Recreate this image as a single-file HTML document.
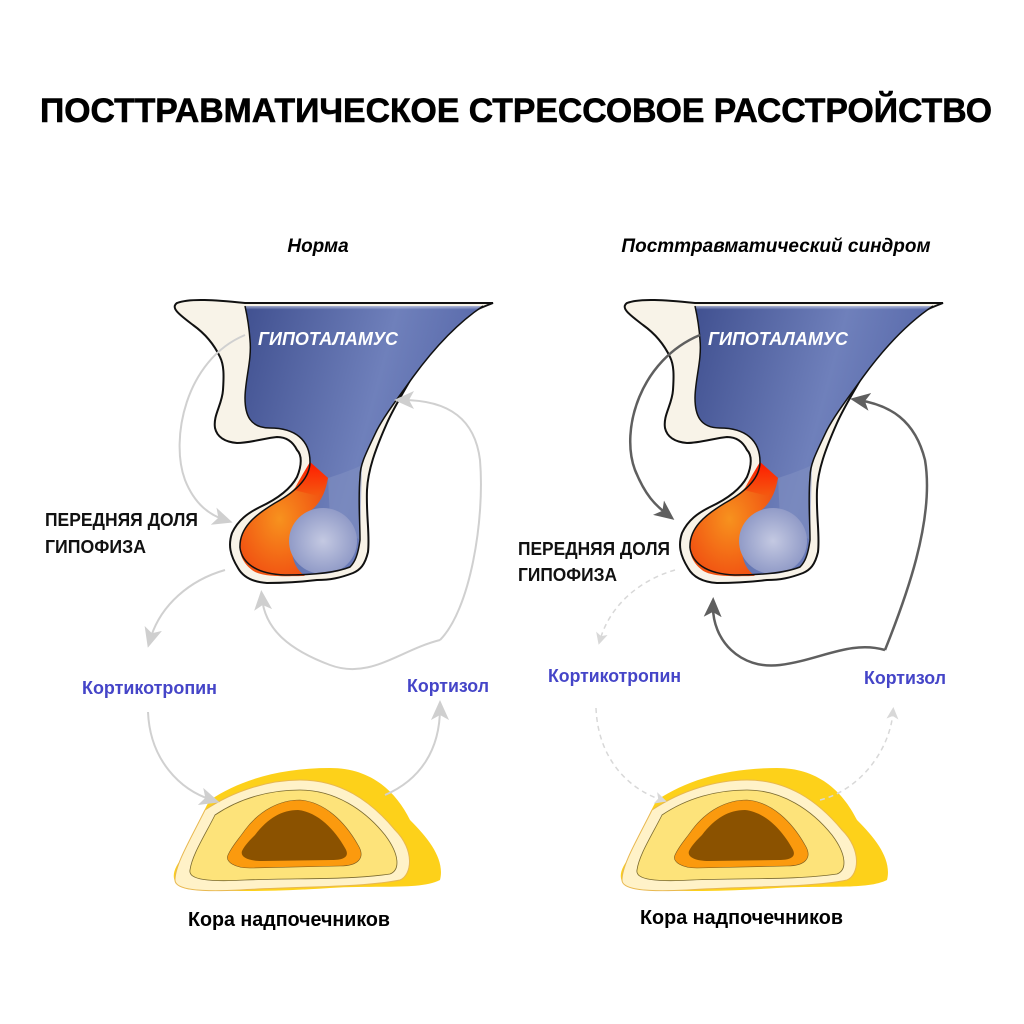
<!DOCTYPE html>
<html><head><meta charset="utf-8"><style>
html,body{margin:0;padding:0;background:#fff}
svg{display:block}
text{font-family:"Liberation Sans",sans-serif}
</style></head><body>
<svg width="1024" height="1024" viewBox="0 0 1024 1024" xmlns="http://www.w3.org/2000/svg">
<defs>
<linearGradient id="blue" x1="0" y1="0" x2="1" y2="0.3">
<stop offset="0" stop-color="#3f4f8f"/><stop offset="0.6" stop-color="#6f80bb"/><stop offset="1" stop-color="#5566a8"/>
</linearGradient>
<linearGradient id="bluetop" x1="0" y1="0" x2="0" y2="1">
<stop offset="0" stop-color="#fff" stop-opacity="0.5"/><stop offset="0.15" stop-color="#fff" stop-opacity="0"/>
</linearGradient>
<radialGradient id="org" cx="0.45" cy="0.5" r="0.6"><stop offset="0" stop-color="#f7921e"/><stop offset="1" stop-color="#f04a10"/></radialGradient>
<radialGradient id="lb" cx="0.5" cy="0.5" r="0.6"><stop offset="0" stop-color="#c4c9e2"/><stop offset="1" stop-color="#8792c2"/></radialGradient>
<linearGradient id="red" x1="0" y1="0" x2="0" y2="1"><stop offset="0" stop-color="#ff1a00"/><stop offset="1" stop-color="#f45a10"/></linearGradient>
<marker id="aL" markerWidth="20" markerHeight="20" refX="12" refY="10" orient="auto" markerUnits="userSpaceOnUse" viewBox="0 0 20 20"><path d="M0,1 L20,10 L0,19 L5,10z" fill="#cfcfcf"/></marker>
<marker id="aD" markerWidth="20" markerHeight="20" refX="12" refY="10" orient="auto" markerUnits="userSpaceOnUse" viewBox="0 0 20 20"><path d="M0,1 L20,10 L0,19 L5,10z" fill="#5f5f5f"/></marker>
<marker id="aS" markerWidth="12" markerHeight="12" refX="7" refY="6" orient="auto" markerUnits="userSpaceOnUse" viewBox="0 0 12 12"><path d="M0,0 L12,6 L0,12 L3,6z" fill="#d8d8d8"/></marker>
<g id="gland">
<path d="M177,303 C190,298 215,300 245,303 L493,303 C480,308 470,312 460,320 C440,335 430,345 420,363 C405,390 395,405 387,423 C375,450 368,470 367,490 C366,515 370,535 368,552 C365,565 360,570 353,573 C340,578 330,580 317,580 C300,582 285,583 267,583 C252,582 243,577 238,568 C230,555 228,545 232,533 C238,520 248,513 260,507 C275,500 290,490 297,477 C302,465 302,455 297,450 C292,440 285,437 277,437 C265,438 250,443 237,443 C225,442 217,437 215,428 C213,415 222,405 223,390 C224,375 224,365 220,357 C212,340 200,330 193,325 C180,315 170,308 177,303Z" fill="#f8f3e8" stroke="#111" stroke-width="2"/>
<path d="M245,306 L483,306 C465,318 440,340 413,377 C395,402 385,415 377,430 C365,455 360,465 360,477 C358,500 360,520 360,540 C358,555 355,562 350,567 C335,573 310,575 285,575 C255,574 242,562 240,548 C239,528 255,515 275,503 C295,492 310,478 310,462 C310,440 295,428 270,428 C250,428 245,415 245,398 C245,380 252,360 250,340 C249,325 247,315 245,306Z" fill="url(#blue)"/>
<path d="M245,306 L483,306 C470,315 460,322 450,330 L248,330Z" fill="url(#bluetop)"/>
<path d="M240,548 C239,528 255,515 275,503 C295,492 305,478 310,462 L328,478 C326,490 322,500 314,508 C300,518 292,530 292,548 C292,565 300,572 305,576 C290,576 262,578 252,570 C243,563 240,555 240,548Z" fill="url(#org)"/>
<path d="M310,462 C304,472 298,482 294,490 L318,496 C322,490 326,482 328,478Z" fill="url(#red)"/>
<path d="M328,478 C340,474 352,470 362,465 L360,540 L330,520Z" fill="#8090c2" opacity="0.6"/>
<ellipse cx="323" cy="541" rx="34" ry="33" fill="url(#lb)"/>
<path d="M240,548 C239,528 255,515 275,503 C295,492 310,478 310,462 C310,440 295,428 270,428 C250,428 245,415 245,398 C245,380 252,360 250,340 C249,325 247,315 245,306" fill="none" stroke="#111" stroke-width="1.5"/>
<path d="M483,306 C465,318 440,340 413,377 C395,402 385,415 377,430 C365,455 360,465 360,477 C358,500 360,520 360,540 C358,555 355,562 350,567 C335,573 310,575 285,575 C255,574 242,562 240,548" fill="none" stroke="#111" stroke-width="1.5"/>
<text x="328" y="345" fill="#fff" font-size="18" font-weight="bold" font-style="italic" text-anchor="middle">ГИПОТАЛАМУС</text>
</g>
<g id="adrenal">
<path d="M210,800 C240,780 280,768 330,768 C370,768 395,790 410,820 C430,840 445,860 440,880 C420,890 380,885 330,888 C270,892 220,892 185,888 C170,885 170,870 185,855 C195,840 200,815 210,800Z" fill="#fdd11a"/>
<path d="M205,810 C235,790 270,780 300,780 C340,780 370,800 395,830 C415,850 412,875 400,880 C360,888 300,886 240,890 C200,892 175,890 175,880 C175,865 190,840 205,810Z" fill="#fff2c8" stroke="#e8b850" stroke-width="1"/>
<path d="M215,815 C240,798 270,790 300,790 C335,790 365,810 385,835 C400,855 400,870 390,874 C350,880 300,878 245,880 C210,882 188,880 190,870 C192,855 205,835 215,815Z" fill="#fde37a" stroke="#7a6a30" stroke-width="0.8"/>
<path d="M245,830 C260,810 280,800 300,800 C325,802 345,822 358,845 C366,858 358,866 340,866 L250,868 C235,868 225,862 228,855 C232,846 238,840 245,830Z" fill="#fb9a0e" stroke="#7a5a20" stroke-width="0.6"/>
<path d="M255,835 C268,818 282,810 298,810 C318,812 335,830 345,848 C350,856 345,860 332,860 L262,861 C248,861 240,857 242,851 C245,845 250,840 255,835Z" fill="#8b5200"/>
</g>
</defs>

<text x="40" y="122" font-size="34" font-weight="bold" fill="#000" textLength="952" lengthAdjust="spacingAndGlyphs" stroke="#000" stroke-width="0.6">ПОСТТРАВМАТИЧЕСКОЕ СТРЕССОВОЕ РАССТРОЙСТВО</text>
<text x="318" y="252" font-size="19" font-weight="bold" font-style="italic" text-anchor="middle">Норма</text>
<text x="776" y="252" font-size="19" font-weight="bold" font-style="italic" text-anchor="middle">Посттравматический синдром</text>

<use href="#gland"/>
<use href="#adrenal"/>
<g fill="none" stroke="#d0d0d0" stroke-width="2">
<path d="M245,335 C185,360 170,440 185,480 C195,505 210,515 225,520" marker-end="url(#aL)"/>
<path d="M440,640 C470,610 485,520 480,460 C475,420 450,400 402,400" marker-end="url(#aL)"/>
<path d="M440,640 C400,650 370,680 330,665 C290,650 265,630 262,598" marker-end="url(#aL)"/>
<path d="M225,570 C190,580 160,605 150,640" marker-end="url(#aL)"/>
<path d="M148,712 C150,760 180,790 212,800" marker-end="url(#aL)"/>
<path d="M385,795 C420,780 440,750 440,708" marker-end="url(#aL)"/>
</g>
<text x="45" y="526" font-size="18" font-weight="bold" fill="#111" textLength="153" lengthAdjust="spacingAndGlyphs">ПЕРЕДНЯЯ ДОЛЯ</text>
<text x="45" y="553" font-size="18" font-weight="bold" fill="#111" textLength="101" lengthAdjust="spacingAndGlyphs">ГИПОФИЗА</text>
<text x="82" y="694" font-size="18" font-weight="bold" fill="#4545c8" textLength="135" lengthAdjust="spacingAndGlyphs">Кортикотропин</text>
<text x="407" y="692" font-size="18" font-weight="bold" fill="#4545c8" textLength="82" lengthAdjust="spacingAndGlyphs">Кортизол</text>
<text x="188" y="926" font-size="20" font-weight="bold" fill="#000" textLength="202" lengthAdjust="spacingAndGlyphs">Кора надпочечников</text>

<use href="#gland" x="450"/>
<g transform="translate(447,0)"><use href="#adrenal"/></g>
<g fill="none" stroke="#5f5f5f" stroke-width="2.5">
<path d="M700,335 C640,360 620,430 635,470 C645,495 655,505 668,515" marker-end="url(#aD)"/>
<path d="M885,650 C905,600 935,520 925,460 C915,420 890,405 858,400" marker-end="url(#aD)"/>
<path d="M885,650 C850,640 820,660 780,665 C740,670 712,640 713,605" marker-end="url(#aD)"/>
</g>
<g fill="none" stroke="#d8d8d8" stroke-width="1.5" stroke-dasharray="5,4">
<path d="M675,570 C640,580 610,605 600,640" marker-end="url(#aS)"/>
<path d="M596,708 C598,760 630,790 662,800" marker-end="url(#aS)"/>
<path d="M820,800 C860,790 890,750 893,712" marker-end="url(#aS)"/>
</g>
<text x="518" y="555" font-size="18" font-weight="bold" fill="#111" textLength="152" lengthAdjust="spacingAndGlyphs">ПЕРЕДНЯЯ ДОЛЯ</text>
<text x="518" y="581" font-size="18" font-weight="bold" fill="#111" textLength="99" lengthAdjust="spacingAndGlyphs">ГИПОФИЗА</text>
<text x="548" y="682" font-size="18" font-weight="bold" fill="#4545c8" textLength="133" lengthAdjust="spacingAndGlyphs">Кортикотропин</text>
<text x="864" y="684" font-size="18" font-weight="bold" fill="#4545c8" textLength="82" lengthAdjust="spacingAndGlyphs">Кортизол</text>
<text x="640" y="924" font-size="20" font-weight="bold" fill="#000" textLength="203" lengthAdjust="spacingAndGlyphs">Кора надпочечников</text>
</svg>
</body></html>
